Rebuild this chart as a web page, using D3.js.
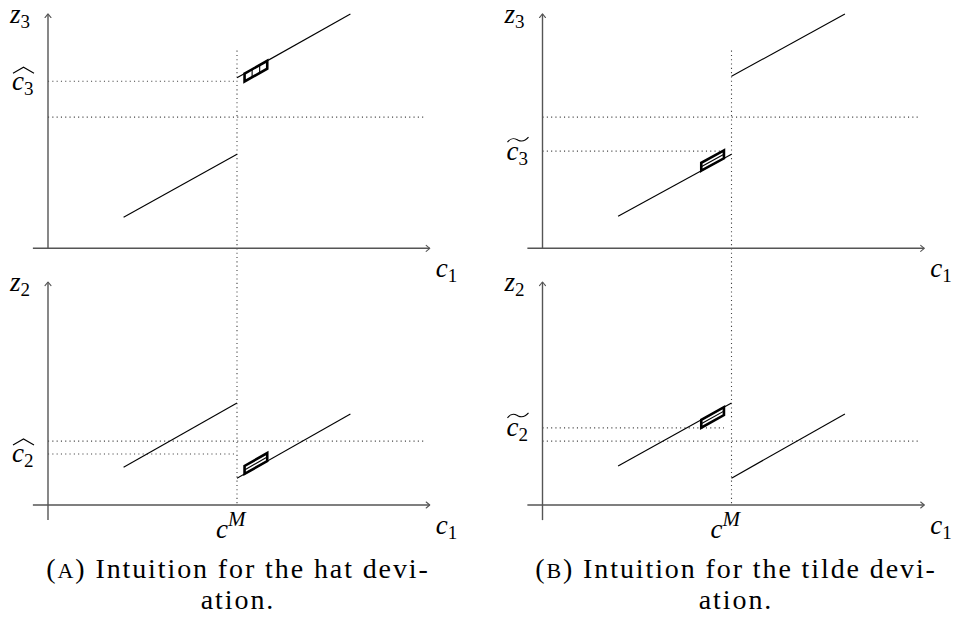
<!DOCTYPE html>
<html><head><meta charset="utf-8">
<script src="https://cdn.jsdelivr.net/npm/d3@7"></script>
<style>
body{margin:0;background:#fff} svg{display:block}
text{font-family:"Liberation Serif","Tinos","DejaVu Serif","Noto Serif","Times New Roman",Times,serif}
</style>
</head><body><svg id="fig" width="957" height="635"></svg>
<script>
// ----- values shared by all four panels (abscissa / ordinate units) -----
const cM = 5;                       // threshold c^M on the c1 axis
const xAxisExtent = [-0.4, 10.1];
const topYAxisExtent = [0, 6.2];
const bottomYAxisExtent = [-0.4, 5.9];
const verticalGuideTop = 5.23;      // where the dotted c^M guide starts (top panel units)

// ----- left column: hat deviation -----
const hatTopSegments    = [[[2, 0.82], [5, 2.49]], [[5, 4.51], [8, 6.2]]];
const hatBottomSegments = [[[2, 1.00], [5, 2.70]], [[5, 0.71], [8, 2.41]]];
const hatTopGuides      = [{ y: 4.42, to: 5 }, { y: 3.47, to: 10 }];
const hatBottomGuides   = [{ y: 1.69, to: 10 }, { y: 1.35, to: 5 }];
const hatTopBox         = { seg: 1, from: 5.2, to: 5.8, off: -0.21, split: "vertical" };
const hatBottomBox      = { seg: 1, from: 5.2, to: 5.8, off: 0.21, split: "diagonal" };

// ----- right column: tilde deviation -----
const tildeTopSegments    = [[[2, 0.85], [5, 2.49]], [[5, 4.55], [8, 6.2]]];
const tildeBottomSegments = [[[2, 1.03], [5, 2.70]], [[5, 0.71], [8, 2.41]]];
const tildeTopGuides      = [{ y: 3.47, to: 10 }, { y: 2.57, to: 4.8 }];
const tildeBottomGuides   = [{ y: 1.69, to: 10 }, { y: 2.04, to: 4.8 }];
const tildeTopBox         = { seg: 0, from: 4.2, to: 4.8, off: 0.21, split: "diagonal" };
const tildeBottomBox      = { seg: 0, from: 4.2, to: 4.8, off: -0.21, split: "diagonal" };

// ----- axis / guide labels -----
const topAxisName = "3", bottomAxisName = "2";
const captions = [
  { tag: "A", lines: ["Intuition for the hat devi-", "ation."] },
  { tag: "B", lines: ["Intuition for the tilde devi-", "ation."] }
];

const svg = d3.select("#fig");
const axisColor = "#555";

// scales: one unit = 37.8 px in both directions
const unit = 37.8;
function xScaleAt(origin) {
  return d3.scaleLinear().domain([0, 10]).range([origin, origin + 10 * unit]);
}
function yScaleAt(origin) {
  return d3.scaleLinear().domain([0, 6]).range([origin, origin - 6 * unit]);
}

function arrowHead(g, x, y, dir) {
  // small open "->" tip
  const a = 3.6, b = 3;
  const pts = dir === "right"
    ? [[x - a, y - b], [x, y], [x - a, y + b]]
    : [[x - b, y + a], [x, y], [x + b, y + a]];
  g.append("path").attr("d", d3.line()(pts))
    .attr("fill", "none").attr("stroke", axisColor).attr("stroke-width", 1.1)
    .attr("stroke-linecap", "round").attr("stroke-linejoin", "round");
}

function mathLabel(g, x, y, base, sub, opts = {}) {
  const t = g.append("text").attr("x", x).attr("y", y)
    .attr("font-size", 27).attr("fill", "#000");
  t.append("tspan").attr("font-style", "italic").text(base);
  if (sub) t.append("tspan").attr("font-size", opts.sup ? 21 : 19).attr("dy", opts.sup ? -12 : 5)
    .attr("font-style", opts.sup ? "italic" : "normal").text(sub);
  return t;
}

function accent(g, x0, x1, y, kind) {
  const xm = (x0 + x1) / 2;
  let d;
  if (kind === "hat") {
    d = `M${x0},${y} L${xm},${y - 6} L${x1},${y}`;
  } else {
    const w = x1 - x0;
    d = `M${x0},${y - 1} C${x0 + w * 0.2},${y - 7} ${x0 + w * 0.4},${y - 4} ${xm},${y - 3}` +
        ` S${x1 - w * 0.2},${y - 1} ${x1},${y - 6}`;
  }
  g.append("path").attr("d", d).attr("fill", "none")
    .attr("stroke", "#000").attr("stroke-width", 1.1);
}

function drawPanel(x, y, yExtent, segments, guides, box) {
  const g = svg.append("g");
  // dotted horizontal guides
  g.selectAll(".guide").data(guides).join("line")
    .attr("x1", x(0)).attr("x2", d => x(d.to))
    .attr("y1", d => y(d.y)).attr("y2", d => y(d.y))
    .attr("stroke", "#444").attr("stroke-width", 1.1)
    .attr("stroke-dasharray", "1.1 3.2");
  // axes
  g.append("line").attr("x1", x(xAxisExtent[0])).attr("x2", x(xAxisExtent[1]))
    .attr("y1", y(0)).attr("y2", y(0)).attr("stroke", axisColor).attr("stroke-width", 1.4);
  arrowHead(g, x(xAxisExtent[1]), y(0), "right");
  g.append("line").attr("x1", x(0)).attr("x2", x(0))
    .attr("y1", y(yExtent[0])).attr("y2", y(yExtent[1])).attr("stroke", axisColor).attr("stroke-width", 1.4);
  arrowHead(g, x(0), y(yExtent[1]), "up");
  // the two line pieces
  const line = d3.line().x(d => x(d[0])).y(d => y(d[1]));
  g.selectAll(".seg").data(segments).join("path")
    .attr("d", line).attr("fill", "none").attr("stroke", "#000").attr("stroke-width", 1.1);
  // the highlighted parallelogram riding on one piece
  const s = segments[box.seg];
  const f = v => s[0][1] + (s[1][1] - s[0][1]) * (v - s[0][0]) / (s[1][0] - s[0][0]);
  const corners = [[box.from, f(box.from)], [box.to, f(box.to)],
                   [box.to, f(box.to) + box.off], [box.from, f(box.from) + box.off]];
  g.append("path").attr("d", line(corners) + "Z").attr("fill", "none")
    .attr("stroke", "#000").attr("stroke-width", 2.6).attr("stroke-linejoin", "miter");
  if (box.split === "vertical") {
    [1 / 3, 2 / 3].forEach(k => {
      const v = box.from + (box.to - box.from) * k;
      g.append("path").attr("d", line([[v, f(v)], [v, f(v) + box.off]]))
        .attr("stroke", "#000").attr("stroke-width", 1.1);
    });
  } else {
    g.append("path").attr("d", line([[box.from, f(box.from) + box.off / 2], [box.to, f(box.to) + box.off / 2]]))
      .attr("stroke", "#000").attr("stroke-width", 1.1);
  }
  return g;
}

const columns = [
  { origin: 48, top: [hatTopSegments, hatTopGuides, hatTopBox], bottom: [hatBottomSegments, hatBottomGuides, hatBottomBox],
    accent: "hat", topMark: hatTopGuides[0].y, bottomMark: hatBottomGuides[1].y, center: 238 },
  { origin: 542.5, top: [tildeTopSegments, tildeTopGuides, tildeTopBox], bottom: [tildeBottomSegments, tildeBottomGuides, tildeBottomBox],
    accent: "tilde", topMark: tildeTopGuides[1].y, bottomMark: tildeBottomGuides[1].y, center: 736 }
];

const yTop = yScaleAt(248.3);
const yBottom = yScaleAt(505);

columns.forEach((col, i) => {
  const x = xScaleAt(col.origin);
  // dotted vertical guide at c^M running through both panels
  svg.append("line").attr("x1", x(cM)).attr("x2", x(cM))
    .attr("y1", yTop(verticalGuideTop)).attr("y2", yBottom(0))
    .attr("stroke", "#444").attr("stroke-width", 1.1).attr("stroke-dasharray", "1.1 3.2");

  const gt = drawPanel(x, yTop, topYAxisExtent, ...col.top);
  const gb = drawPanel(x, yBottom, bottomYAxisExtent, ...col.bottom);

  // axis names
  mathLabel(gt, x(0) - 38, yTop(topYAxisExtent[1]) + 9, "z", topAxisName);
  mathLabel(gb, x(0) - 38, yBottom(bottomYAxisExtent[1]) + 9, "z", bottomAxisName);
  mathLabel(gt, x(xAxisExtent[1]) + 6, yTop(0) + 29, "c", "1");
  mathLabel(gb, x(xAxisExtent[1]) + 6, yBottom(0) + 29, "c", "1");
  mathLabel(gb, x(cM) - 21, yBottom(0) + 33, "c", "M", { sup: true });

  // accented guide values
  const lx = x(0) - 36;
  const bt = yTop(col.topMark) + 9, bb = yBottom(col.bottomMark) + 8;
  mathLabel(gt, lx, bt, "c", topAxisName);
  accent(gt, lx + 1, lx + 22, bt - 17, col.accent);
  mathLabel(gb, lx, bb, "c", bottomAxisName);
  accent(gb, lx + 1, lx + 22, bb - 17, col.accent);

  // caption
  const cap = captions[i];
  const t1 = svg.append("text").attr("x", col.center).attr("y", 578).attr("text-anchor", "middle")
    .attr("font-size", 28).attr("letter-spacing", 1.9);
  t1.append("tspan").text("(");
  t1.append("tspan").attr("font-size", 22).text(cap.tag);
  t1.append("tspan").text(") " + cap.lines[0]);
  svg.append("text").attr("x", col.center).attr("y", 609).attr("text-anchor", "middle")
    .attr("font-size", 28).attr("letter-spacing", 1.9).text(cap.lines[1]);
});
</script>
</body></html>
